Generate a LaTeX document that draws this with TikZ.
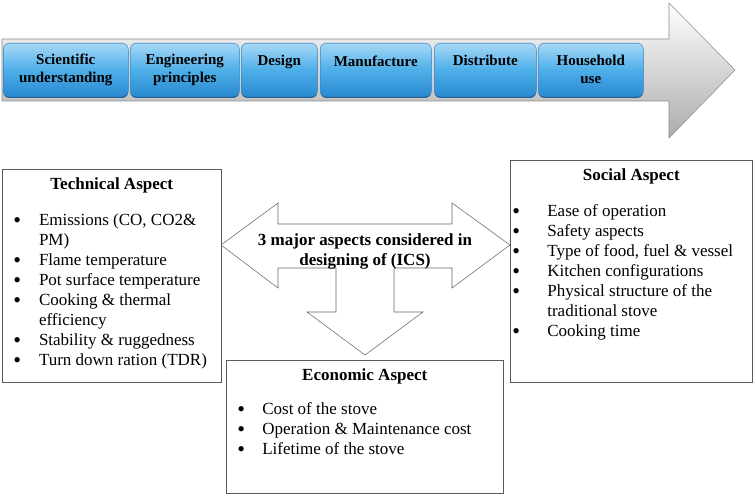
\documentclass[tikz,border=0pt]{standalone}
\usepackage{fontspec}
\setmainfont{Liberation Serif}
\usetikzlibrary{positioning,shadows}

\definecolor{stagetop}{HTML}{A6D8F6}
\definecolor{stagemid}{HTML}{4EAFE8}
\definecolor{stagebot}{HTML}{2A8AD2}
\definecolor{stageedge}{HTML}{3B8CC9}
\definecolor{stageshadow}{HTML}{1D5F98}
\definecolor{boxline}{HTML}{5A5A5A}
\definecolor{arrowline}{HTML}{8C8C8C}

\newcommand{\pointdot}{\raisebox{-1.3pt}{\scalebox{1.3}{\textbullet}}}

\tikzset{
  stage/.style={draw=stageedge, rounded corners=4.5pt, top color=stagetop, bottom color=stagebot, middle color=stagemid,
    anchor=north west, minimum height=39.75pt, inner sep=0pt, align=center,
    font=\fontsize{11.25}{13.5}\selectfont\bfseries,
    drop shadow={shadow xshift=0pt, shadow yshift=-1.2pt, fill=stageshadow, opacity=1}},
  aspect/.style={draw=boxline, fill=white, anchor=north west, inner sep=0pt},
  heading/.style={anchor=base, inner sep=0pt, font=\fontsize{12.75}{15}\selectfont\bfseries},
  points/.style={anchor=base west, inner sep=0pt, font=\fontsize{12.75}{15}\selectfont},
}

\begin{document}
\begin{tikzpicture}[x=0.75pt, y=-0.75pt]
  \useasboundingbox (0,0) rectangle (754,495);

  % flow arrow
  \shade[top color=white, bottom color=gray!65, draw=arrowline]
    (2,39) -- (669,39) -- (669,3) -- (735,70) -- (669,138) -- (669,101) -- (2,101) -- cycle;

  % stages along the arrow
  \foreach \x/\w/\nm/\txt in {3/93.75/sci/{Scientific\\understanding}, 130/81.75/eng/{Engineering\\principles},
      241/57/des/{Design\\\mbox{}}, 320/83.25/man/{Manufacture\\\mbox{}},
      434/76.5/dis/{Distribute\\\mbox{}}, 538/78.75/hou/{Household\\use}} {
    \node[stage, minimum width=\w pt] (\nm) at (\x,43) {\txt};
  }

  % three way arrow
  \draw[draw=gray!80!black, fill=white] (221,245) -- (278,203) -- (278,224) -- (452,224) -- (452,203) -- (510,245)
    -- (452,288) -- (452,268) -- (394,268) -- (394,312) -- (423,312) -- (365,355) -- (307,312) -- (336,312)
    -- (336,268) -- (278,268) -- (278,288) -- cycle;
  \node[align=center, font=\fontsize{12.75}{15}\selectfont\bfseries] (hub) at (365,251)
    {3 major aspects considered in\\designing of (ICS)};

  % technical
  \node[aspect, minimum width=164.25pt, minimum height=159.75pt] (tech) at (2,169) {};
  \node[heading] (techhead) at ([yshift=-15.75pt]tech.north) {Technical Aspect};
  \node[points] (techlist) at ([xshift=8.25pt, yshift=-42.75pt]tech.north west) {%
    \begin{tabular}[t]{@{}l@{\hspace{13.5pt}}l@{}}
      \pointdot & Emissions (CO, CO2\&\\
                & PM)\\
      \pointdot & Flame temperature\\
      \pointdot & Pot surface temperature\\
      \pointdot & Cooking \& thermal\\
                & efficiency\\
      \pointdot & Stability \& ruggedness\\
      \pointdot & Turn down ration (TDR)
    \end{tabular}};

  % social
  \node[aspect, minimum width=181.5pt, minimum height=166.5pt] (soc) at (510,160) {};
  \node[heading] (sochead) at ([yshift=-15.75pt]soc.north) {Social Aspect};
  \node[points] (soclist) at ([xshift=1.5pt, yshift=-42.75pt]soc.north west) {%
    \begin{tabular}[t]{@{}l@{\hspace{20.5pt}}l@{}}
      \pointdot & Ease of operation\\
      \pointdot & Safety aspects\\
      \pointdot & Type of food, fuel \& vessel\\
      \pointdot & Kitchen configurations\\
      \pointdot & Physical structure of the\\
                & traditional stove\\
      \pointdot & Cooking time
    \end{tabular}};

  % economic
  \node[aspect, minimum width=207.75pt, minimum height=99.75pt] (eco) at (226,360) {};
  \node[heading] (ecohead) at ([yshift=-15.75pt]eco.north) {Economic Aspect};
  \node[points] (ecolist) at ([xshift=8.25pt, yshift=-41.25pt]eco.north west) {%
    \begin{tabular}[t]{@{}l@{\hspace{13pt}}l@{}}
      \pointdot & Cost of the stove\\
      \pointdot & Operation \& Maintenance cost\\
      \pointdot & Lifetime of the stove
    \end{tabular}};
\end{tikzpicture}
\end{document}
